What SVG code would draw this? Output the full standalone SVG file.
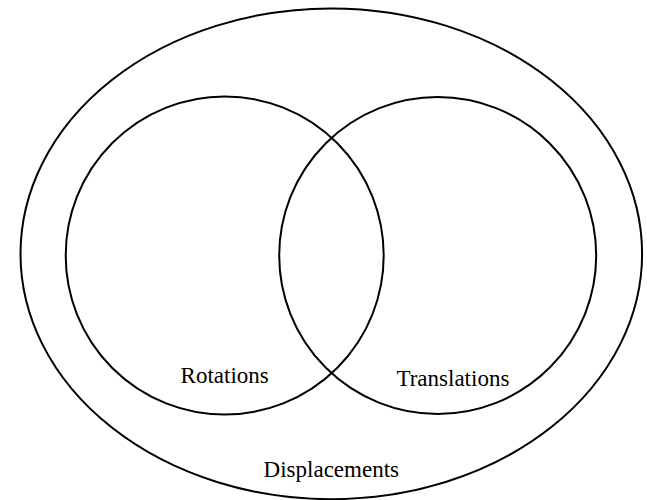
<svg xmlns="http://www.w3.org/2000/svg" width="647" height="500" viewBox="0 0 647 500">
<style>
.set{fill:none;stroke:#000;stroke-width:2}
.lbl{font-family:"Liberation Serif","Times New Roman",serif;font-size:23px;fill:#000;text-anchor:middle}
</style>
<rect width="647" height="500" fill="#fff"/>
<g id="displacements">
<ellipse class="set" cx="331.3" cy="253.8" rx="310.8" ry="245.4"/>
<text class="lbl" x="331.3" y="477.3">Displacements</text>
</g>
<g id="rotations">
<circle class="set" cx="224.7" cy="255.5" r="159"/>
<text class="lbl" x="224.7" y="382.7">Rotations</text>
</g>
<g id="translations">
<circle class="set" cx="437.7" cy="255.5" r="158.5"/>
<text class="lbl" x="452.9" y="386">Translations</text>
</g>
<g id="connectors"/>
</svg>
